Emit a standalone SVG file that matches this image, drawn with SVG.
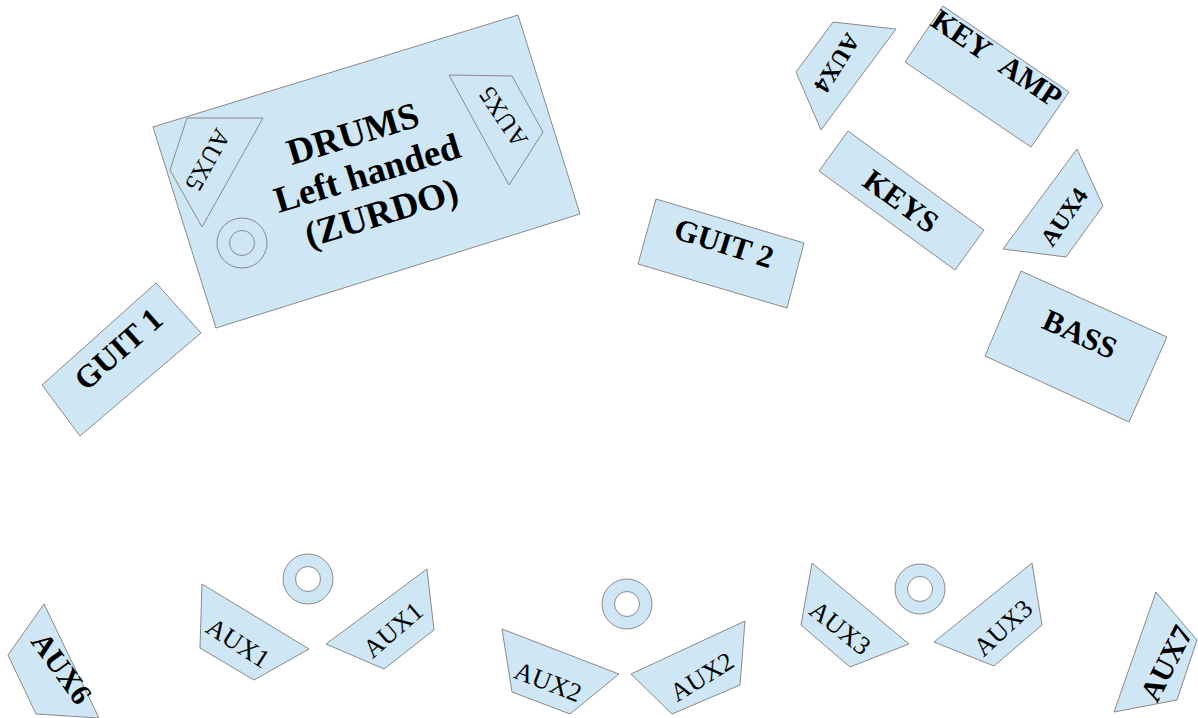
<svg xmlns="http://www.w3.org/2000/svg" width="1198" height="718" viewBox="0 0 1198 718">
<style>
.s{fill:#cfe6f4;stroke:#8a8a8a;stroke-width:1}
.w{fill:#ffffff;stroke:#8a8a8a;stroke-width:1}
.o{fill:none;stroke:#8a8a8a;stroke-width:1}
text{font-family:"Liberation Serif","Times New Roman",serif;fill:#000;text-anchor:middle;dominant-baseline:central}
.b{font-weight:bold}
</style>
<rect width="1198" height="718" fill="#ffffff"/>
<g id="drums">
<polygon class="s" points="153,127 518,15 580,214 216,328"/>
<polygon class="o" points="187,118 263,118 202,227 170,170"/>
<text transform="translate(208,160) rotate(119)" font-size="25">AUX5</text>
<polygon class="o" points="449,75 512,76 543,132 509,185"/>
<text transform="translate(503,117) rotate(-124)" font-size="25">AUX5</text>
<circle class="o" cx="242" cy="243" r="25"/>
<circle class="o" cx="242" cy="243" r="12.5"/>
<g transform="translate(367,173) rotate(-17)" class="b" font-size="37">
<text x="-2" y="-42">DRUMS</text>
<text x="0" y="0">Left handed</text>
<text x="2" y="42">(ZURDO)</text>
</g>
</g>
<g id="guit1">
<polygon class="s" points="42,385 156,283 201,333 80,436"/>
<text class="b" transform="translate(118,349) rotate(-41.5)" font-size="32">GUIT 1</text>
</g>
<g id="guit2">
<polygon class="s" points="656,199 804,243 787,308 638,264"/>
<text class="b" transform="translate(724,243) rotate(17.5)" font-size="31">GUIT 2</text>
</g>
<g id="keys">
<polygon class="s" points="848,131 984,230 955,270 819,171"/>
<text class="b" transform="translate(901,201) rotate(36)" font-size="31">KEYS</text>
</g>
<g id="keyamp">
<polygon class="s" points="943,6 1069,92 1031,147 905,62"/>
<text class="b" transform="translate(997,58) rotate(34)" font-size="30" word-spacing="12">KEY AMP</text>
</g>
<g id="aux4a">
<polygon class="s" points="833,22 896,29 821,130 796,72"/>
<text class="b" transform="translate(837,63) rotate(122)" font-size="24">AUX4</text>
</g>
<g id="aux4b">
<polygon class="s" points="1077,149 1103,206 1066,257 1003,249"/>
<text class="b" transform="translate(1064,217) rotate(-55.5)" font-size="24">AUX4</text>
</g>
<g id="bass">
<polygon class="s" points="1021,271 1167,337 1129,422 985,356"/>
<text class="b" transform="translate(1080,334) rotate(24.5)" font-size="31">BASS</text>
</g>
<g id="aux6">
<polygon class="s" points="44,604 99,718 36,714 8,655"/>
<text class="b" transform="translate(62,668) rotate(54)" font-size="30">AUX6</text>
</g>
<g id="aux1a">
<polygon class="s" points="202,584 309,649 254,680 200,648"/>
<text transform="translate(238,643) rotate(33)" font-size="26">AUX1</text>
</g>
<g id="aux1b">
<polygon class="s" points="427,569 434,630 384,669 326,644"/>
<text transform="translate(393,630) rotate(-41)" font-size="26">AUX1</text>
</g>
<g id="mon1">
<circle class="s" cx="308" cy="579" r="25"/>
<circle class="w" cx="308" cy="579" r="12.5"/>
</g>
<g id="aux2a">
<polygon class="s" points="502,629 619,674 570,714 512,692"/>
<text transform="translate(548,682) rotate(21)" font-size="26">AUX2</text>
</g>
<g id="aux2b">
<polygon class="s" points="745,621 740,685 672,714 631,674"/>
<text transform="translate(702,677) rotate(-32)" font-size="26">AUX2</text>
</g>
<g id="mon2">
<circle class="s" cx="627" cy="604" r="25"/>
<circle class="w" cx="627" cy="604" r="12.5"/>
</g>
<g id="aux3a">
<polygon class="s" points="812,563 909,644 850,667 801,625"/>
<text transform="translate(840,628) rotate(38.5)" font-size="26">AUX3</text>
</g>
<g id="aux3b">
<polygon class="s" points="1032,563 1042,625 994,666 934,642"/>
<text transform="translate(1003,628) rotate(-43)" font-size="26">AUX3</text>
</g>
<g id="mon3">
<circle class="s" cx="920" cy="589" r="25"/>
<circle class="w" cx="920" cy="589" r="12.5"/>
</g>
<g id="aux7">
<polygon class="s" points="1156,592 1197,640 1177,700 1114,712"/>
<text class="b" transform="translate(1166,663) rotate(-63)" font-size="30">AUX7</text>
</g>
<g id="connectors"/>
</svg>
